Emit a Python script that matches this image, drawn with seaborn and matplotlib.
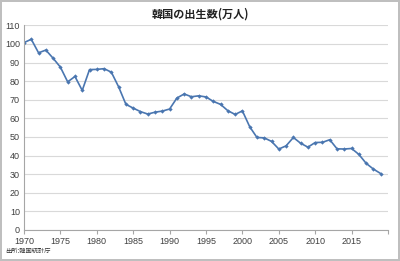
import matplotlib
matplotlib.use("Agg")
import matplotlib.pyplot as plt
import seaborn as sns
import pandas as pd

years = list(range(1970, 2020))
births = [100.7, 102.5, 95.2, 96.7, 92.3, 87.5, 79.6, 82.5, 75.0, 86.2,
          86.3, 86.7, 84.8, 76.9, 67.5, 65.5, 63.6, 62.3, 63.3, 63.9,
          65.0, 70.9, 73.1, 71.6, 72.1, 71.5, 69.1, 67.5, 64.1, 62.1,
          64.0, 55.5, 49.7, 49.5, 47.6, 43.5, 45.2, 49.7, 46.6, 44.5,
          47.0, 47.1, 48.5, 43.6, 43.5, 43.8, 40.6, 35.8, 32.7, 30.3]
xticks = [1970, 1975, 1980, 1985, 1990, 1995, 2000, 2005, 2010, 2015, 2020]
xticklabels = ["1970", "1975", "1980", "1985", "1990", "1995", "2000", "2005", "2010", "2015", ""]
yticks = list(range(0, 111, 10))
title = "韓国の出生数(万人)"
source = "出所:韓国統計庁"

sns.set_style("white")
plt.rcParams['font.family'] = ['Liberation Sans', 'Noto Sans CJK JP', 'DejaVu Sans']

df = pd.DataFrame({"year": years, "births": births})

fig = plt.figure(figsize=(4.0, 2.61), dpi=100)
fig.patch.set_facecolor("white")
fig.patch.set_edgecolor("#bfbfbf")
fig.patch.set_linewidth(1.5)
ax = fig.add_axes([0.06, 0.119, 0.91, 0.784])

sns.lineplot(data=df, x="year", y="births", ax=ax, color="#4a76b0",
             linewidth=1.2, marker="D", markersize=2.2, markeredgewidth=0)

ax.set_xlim(1970, 2020)
ax.set_ylim(0, 110)
ax.set_xticks(xticks)
ax.set_xticklabels(xticklabels)
ax.set_yticks(yticks)
ax.set_xlabel("")
ax.set_ylabel("")
ax.grid(axis="y", color="#d9d9d9", linewidth=0.8)
ax.set_axisbelow(True)
for s in ["top", "right"]:
    ax.spines[s].set_visible(False)
for s in ["left", "bottom"]:
    ax.spines[s].set_color("#a6a6a6")
    ax.spines[s].set_linewidth(0.8)
ax.tick_params(axis="x", direction="out", length=3, width=0.8, color="#a6a6a6",
               labelsize=6.5, labelcolor="#404040", pad=2, bottom=True)
ax.tick_params(axis="y", length=0, labelsize=6.5, labelcolor="#404040", pad=3)

fig.text(0.5, 0.945, title, ha="center", va="center", fontsize=8,
         fontweight="bold", family=['Noto Sans CJK JP', 'DejaVu Sans'], color="#222222")
fig.text(0.012, 0.025, source, ha="left", va="bottom", fontsize=4.5,
         family=['Noto Sans CJK JP', 'DejaVu Sans'], color="#333333")

fig.savefig("out.png", dpi=100)
